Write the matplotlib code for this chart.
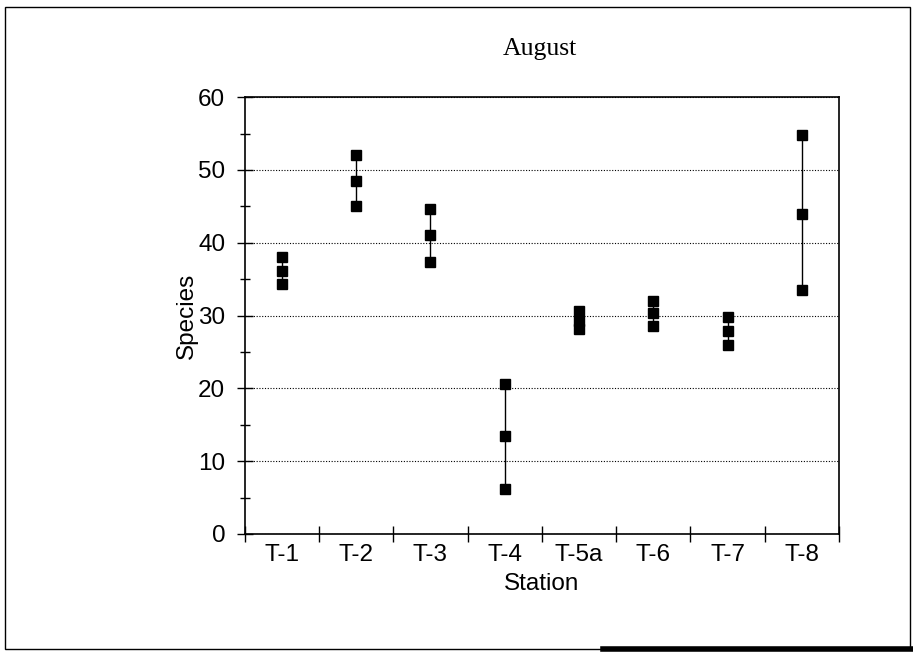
import numpy as np
import matplotlib
matplotlib.use("Agg")
import matplotlib.pyplot as plt
from matplotlib.lines import Line2D
from matplotlib.patches import Rectangle


# species counts per station: high, mean and low of the replicates
stations = ['T-1', 'T-2', 'T-3', 'T-4', 'T-5a', 'T-6', 'T-7', 'T-8']
high = [38.0, 52.0, 44.6, 20.6, 30.6, 32.0, 29.8, 54.8]
mean = [36.1, 48.5, 41.0, 13.4, 29.3, 30.4, 27.9, 44.0]
low = [34.3, 45.0, 37.4, 6.2, 28.1, 28.6, 25.9, 33.5]


def main():
	fig = plt.figure(figsize=(9.13, 6.52), dpi=100)
	fig.patch.set_facecolor('white')

	# page frame around the chart
	fig.add_artist(Rectangle((0.005, 0.004), 0.992, 0.985, transform=fig.transFigure,
		fill=False, edgecolor='black', linewidth=1.0))
	fig.add_artist(Line2D([0.66, 1.0], [0.004, 0.004], transform=fig.transFigure,
		color='black', linewidth=4))

	ax = fig.add_axes([0.268, 0.181, 0.651, 0.670])
	x = np.arange(len(stations))

	# high-low bars
	ax.vlines(x, low, high, color='black', linewidth=1.0, zorder=3)
	for vals in (high, mean, low):
		ax.plot(x, vals, linestyle='none', marker='s', markersize=7.5,
			color='black', markeredgecolor='black', zorder=4)

	ax.set_xlim(-0.5, len(stations) - 0.5)
	ax.set_ylim(0, 60)

	ax.set_yticks(np.arange(0, 61, 10))
	ax.set_yticks(np.arange(5, 60, 10), minor=True)
	ax.set_xticks(np.arange(-0.5, len(stations), 1.0))
	ax.set_xticklabels([])
	ax.set_xticks(x, minor=True)
	ax.set_xticklabels(stations, minor=True)

	fs = 17.5
	ax.tick_params(axis='both', which='major', direction='inout', length=12, width=1.0,
		labelsize=fs, pad=8)
	ax.tick_params(axis='y', which='minor', direction='inout', length=7, width=1.0)
	ax.tick_params(axis='x', which='minor', length=0, labelsize=fs, pad=7)
	for lab in ax.get_yticklabels() + ax.get_xticklabels(minor=True):
		lab.set_fontfamily('Liberation Sans')

	ax.yaxis.grid(True, which='major', color='black', linestyle=(0, (1, 1.5)), linewidth=0.8)
	ax.set_axisbelow(True)
	for sp in ax.spines.values():
		sp.set_linewidth(1.2)

	ax.set_xlabel('Station', fontsize=fs, fontfamily='Liberation Sans', labelpad=5)
	ax.set_ylabel('Species', fontsize=fs, fontfamily='Liberation Sans', labelpad=0)

	fig.text(0.591, 0.925, 'August', ha='center', va='center', fontsize=18.5,
		fontfamily='Liberation Serif')

	fig.savefig('out.png', dpi=100, facecolor='white')


if __name__ == '__main__':
	main()
